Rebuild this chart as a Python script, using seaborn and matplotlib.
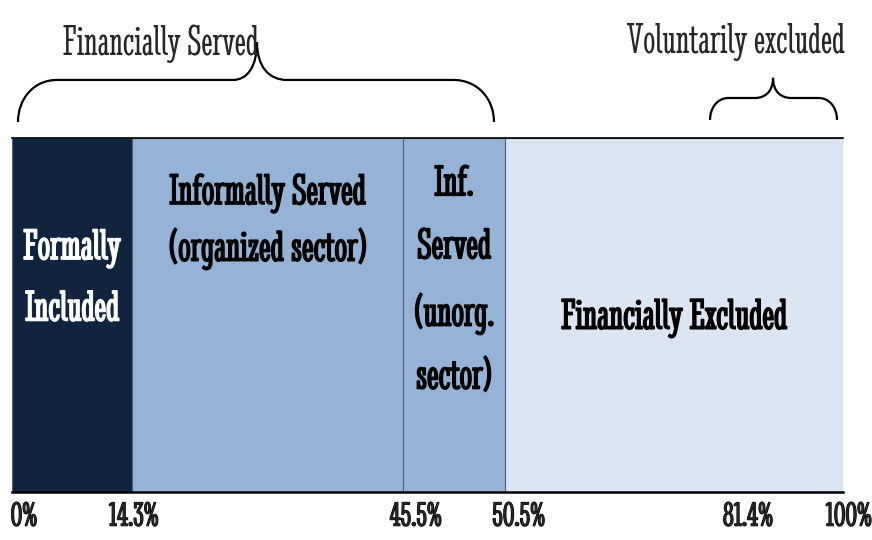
import numpy as np
import matplotlib
matplotlib.use("Agg")
import matplotlib.pyplot as plt
import matplotlib.patheffects as pe
from matplotlib.path import Path
from matplotlib.patches import PathPatch
from matplotlib.transforms import blended_transform_factory, ScaledTranslation
import seaborn as sns

# --- data: cumulative shares of the population (%) ---
segment_labels = ["Formally\nIncluded",
                  "Informally Served\n(organized sector)",
                  "Inf.\nServed\n(unorg.\nsector)",
                  "Financially Excluded"]
segment_ends = [14.3, 45.5, 50.5, 100.0]
tick_values = [0, 14.3, 45.5, 50.5, 81.4, 100]
tick_labels = ["0%", "14.3%", "45.5%", "50.5%", "81.4%", "100%"]

# --- styling ---
segment_colors = ["#10243F", "#95B3D7", "#95B3D7", "#DCE6F2"]
label_colors = ["white", "black", "black", "black"]
label_y = [0.602, 0.765, 0.596, 0.492]          # axes fraction
label_spacing = [1.78, 1.5, 1.83, 1.45]
# the source draws a schematic axis: where each tick value sits along the bar
tick_positions = [0.0, 0.1444, 0.4705, 0.5933, 0.8857, 1.0]
tick_shift_px = [12, 2, 13, 14, 0, 6]

sns.set_style("white")
plt.rcParams["font.family"] = ["Stint Ultra Condensed", "DejaVu Serif"]


def fwd(x):
    return np.interp(x, tick_values, tick_positions)


def inv(x):
    return np.interp(x, tick_positions, tick_values)


def bold(color, lw=1.0):
    return [pe.withStroke(linewidth=lw, foreground=color)]


def brace(ax, x0, x1, xt, ye, yh, yt, r0, rt1, rt2, r1, lw=1.6):
    """Curly brace in axes coordinates, tip pointing up."""
    verts = [
        (x0, ye),
        (x0, ye + 0.55 * (yh - ye)), (x0 + 0.4 * r0, yh), (x0 + r0, yh),
        (xt - rt1, yh),
        (xt - 0.4 * rt1, yh), (xt, yh + 0.35 * (yt - yh)), (xt, yt),
        (xt, yh + 0.35 * (yt - yh)), (xt + 0.4 * rt2, yh), (xt + rt2, yh),
        (x1 - r1, yh),
        (x1 - 0.4 * r1, yh), (x1, ye + 0.55 * (yh - ye)), (x1, ye),
    ]
    codes = [Path.MOVETO] + [Path.CURVE4] * 3 + [Path.LINETO] + [Path.CURVE4] * 6 \
        + [Path.LINETO] + [Path.CURVE4] * 3
    ax.add_patch(PathPatch(Path(verts, codes), fill=False, lw=lw, color="black",
                           transform=ax.transAxes, clip_on=False))


fig = plt.figure(figsize=(8.72, 5.40), dpi=100)
ax = fig.add_axes([12 / 872, 48 / 540, 831 / 872, 354 / 540])

# stacked bar: overlay cumulative bars, longest first
for end, color in reversed(list(zip(segment_ends, segment_colors))):
    sns.barplot(x=[end], y=["share"], orient="h", color=color, saturation=1,
                width=1.0, errorbar=None, edgecolor="#4E5F78", linewidth=0.8, ax=ax)

ax.set_xscale("function", functions=(fwd, inv))
ax.set_xlim(0, 100)
ax.set_ylim(0.5, -0.5)
ax.set_xlabel("")
ax.set_ylabel("")
ax.set_yticks([])

for side in ["left", "right"]:
    ax.spines[side].set_visible(False)
ax.spines["top"].set_color("black")
ax.spines["top"].set_linewidth(1.2)
ax.spines["bottom"].set_color("black")
ax.spines["bottom"].set_linewidth(1.8)

ax.set_xticks(tick_values, tick_labels)
ax.tick_params(axis="x", length=0, pad=7, labelsize=25)
for lbl, dx in zip(ax.get_xticklabels(), tick_shift_px):
    lbl.set_transform(lbl.get_transform() + ScaledTranslation(dx / 100, 0, fig.dpi_scale_trans))
    lbl.set_path_effects(bold("black", 0.8))

# segment labels, centred on each segment as drawn
trans = blended_transform_factory(ax.transData, ax.transAxes)
starts = [0] + segment_ends[:-1]
for start, end, text, color, y, ls in zip(starts, segment_ends, segment_labels,
                                          label_colors, label_y, label_spacing):
    mid = inv((fwd(start) + fwd(end)) / 2)
    ax.text(mid, y, text, transform=trans, ha="center", va="center", fontsize=32,
            color=color, linespacing=ls, path_effects=bold(color))

# braces and their captions
brace(ax, 0.0072, 0.580, 0.2948, 1.045, 1.164, 1.271, 0.047, 0.029, 0.036, 0.049)
brace(ax, 0.840, 0.9928, 0.9158, 1.051, 1.113, 1.170, 0.022, 0.022, 0.022, 0.022)
fig.text(161 / 872, 1 - 55 / 540, "Financially Served", ha="center", va="baseline", fontsize=31)
fig.text(736 / 872, 1 - 53 / 540, "Voluntarily excluded", ha="center", va="baseline", fontsize=31)

fig.savefig("out.png", dpi=100, facecolor="white")
